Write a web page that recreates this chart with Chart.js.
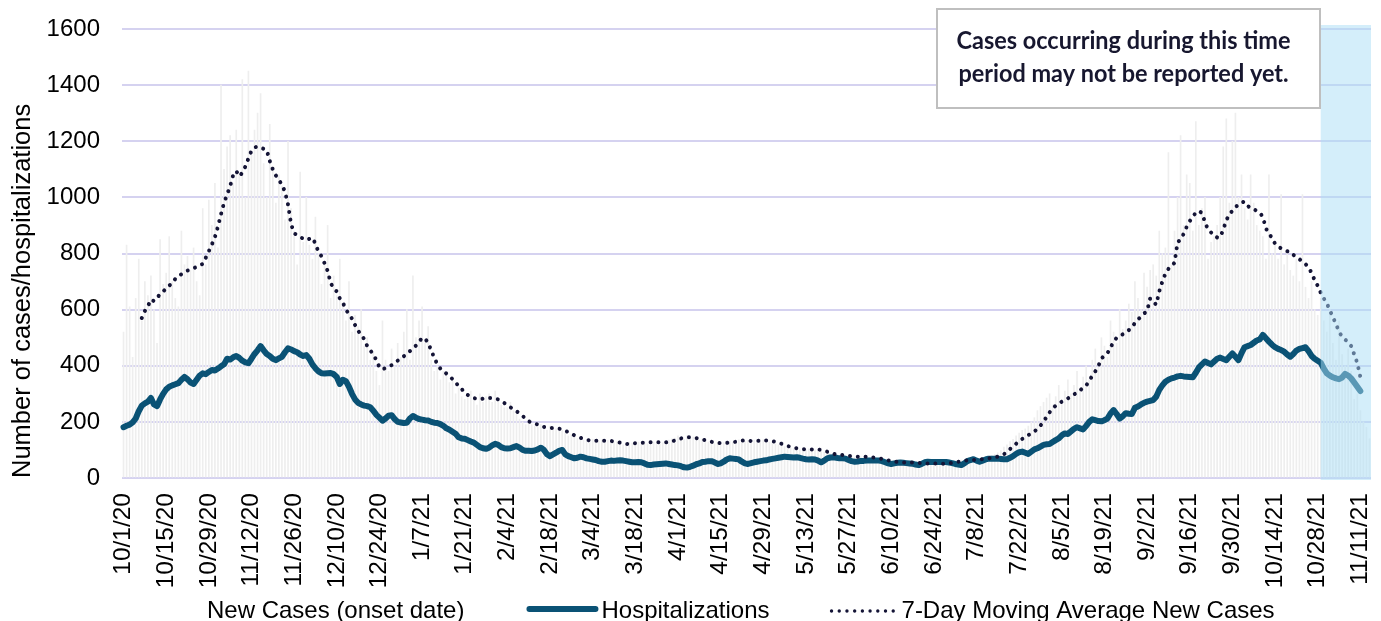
<!DOCTYPE html>
<html>
<head>
<meta charset="utf-8">
<script src="https://cdn.jsdelivr.net/npm/chart.js@4.4.1/dist/chart.umd.min.js"></script>
<style>
html,body{margin:0;padding:0;background:#fff;overflow:hidden;}
#wrap{width:1381px;height:621px;position:relative;}
</style>
</head>
<body>
<div id="wrap"><canvas id="c" width="1381" height="621"></canvas></div>
<script>
// ---------------- DATA ----------------
const startDate = [2020, 10, 1];   // first onset date (year, month, day)
const dayCount = 410;              // 10/1/20 ... 11/14/21

const tickLabels = ['10/1/20','10/15/20','10/29/20','11/12/20','11/26/20','12/10/20','12/24/20',
  '1/7/21','1/21/21','2/4/21','2/18/21','3/4/21','3/18/21','4/1/21','4/15/21','4/29/21',
  '5/13/21','5/27/21','6/10/21','6/24/21','7/8/21','7/22/21','8/5/21','8/19/21','9/2/21',
  '9/16/21','9/30/21','10/14/21','10/28/21','11/11/21'];

const newCases = [
  520,830,610,430,640,780,560,
  700,650,720,600,480,850,690,
  730,860,700,640,610,880,760,
  790,740,820,700,650,960,760,
  990,900,1050,820,1400,1100,1180,
  1220,1050,1240,1080,1420,1000,1450,
  1150,1240,1300,1370,1120,1000,1260,
  1100,980,1080,1040,920,1200,960,
  880,760,1090,840,1000,830,780,
  930,800,690,760,900,640,720,
  650,780,620,560,700,520,580,
  540,600,470,500,420,450,380,
  330,560,420,380,460,400,480,
  430,520,600,420,720,500,560,
  610,480,540,420,380,400,350,
  380,370,340,360,300,320,290,
  280,300,310,290,260,300,270,
  290,300,270,310,280,260,250,
  250,270,240,230,210,200,190,
  200,190,185,180,190,175,170,
  185,180,175,178,170,160,150,
  155,150,140,145,135,132,130,
  138,130,132,135,128,134,130,
  125,130,122,118,120,128,124,
  126,128,125,130,122,130,128,
  126,130,125,128,135,140,142,
  150,145,138,150,140,146,138,
  135,138,130,128,125,122,128,
  120,126,130,132,128,134,136,
  138,130,134,130,135,132,138,
  136,130,128,126,122,118,115,
  112,108,106,104,102,101,103,
  100,104,102,100,98,96,92,
  88,86,82,84,80,82,78,
  76,80,74,78,76,74,77,
  72,70,72,66,68,62,60,
  58,56,58,55,54,56,53,
  56,52,54,50,52,53,50,
  52,48,50,52,54,56,58,
  60,62,64,62,66,64,66,
  68,70,72,74,76,80,84,
  90,98,110,118,130,138,150,
  160,170,175,185,200,215,240,
  255,270,285,300,260,290,330,
  280,310,350,300,330,380,320,
  360,400,350,420,460,400,500,
  470,430,560,520,480,600,530,
  560,620,590,700,640,600,730,
  680,740,760,720,880,800,820,
  1160,760,880,1000,1220,900,1080,
  1050,880,1270,900,960,1000,780,
  840,860,900,1000,1180,1280,980,
  1200,1300,1000,1080,960,920,1080,
  980,900,880,860,780,1080,800,
  840,780,1010,760,800,740,720,
  780,700,1010,680,640,700,600,
  580,640,560,520,600,480,420,
  560,440,400,460,380,280,300,
  240,200,180,140
];

const hospitalizations = [
  181,186,190,198,212,238,258,266,272,285,
  262,256,280,300,316,325,330,334,338,350,
  360,352,340,335,350,365,373,370,378,385,
  383,390,398,405,425,422,430,435,428,418,
  412,409,425,442,455,470,455,442,435,425,
  420,426,432,448,462,458,452,448,440,435,
  438,425,405,391,380,373,372,373,374,370,
  360,335,350,345,325,300,280,268,262,258,
  256,252,240,225,215,204,212,222,224,210,
  200,198,196,197,212,221,215,210,208,206,
  205,200,197,196,192,186,177,172,165,158,
  145,141,140,135,130,126,118,110,106,104,
  108,116,122,118,110,106,105,106,110,114,
  108,100,97,97,96,98,102,108,100,85,
  78,84,90,97,100,84,78,74,70,72,
  76,74,70,68,66,64,60,58,58,60,
  62,61,62,63,62,60,58,56,56,57,
  56,52,47,46,48,49,50,51,52,50,
  48,46,45,42,38,37,40,44,49,52,
  57,58,60,60,56,50,52,58,66,70,
  69,68,66,58,52,50,53,56,58,60,
  62,63,66,68,70,72,74,76,75,74,
  73,74,72,69,67,66,67,66,62,56,
  62,70,73,74,72,70,70,69,64,60,
  58,59,61,61,62,62,62,62,62,60,
  56,52,50,52,54,55,54,53,52,51,
  48,46,50,56,58,57,57,57,57,57,
  57,55,53,50,48,46,52,60,64,67,
  62,58,62,66,69,69,69,69,68,67,
  67,72,78,86,92,94,90,86,94,102,
  106,112,118,120,121,128,135,141,152,159,
  157,166,175,181,177,173,186,200,209,206,
  203,202,206,212,230,242,228,212,220,231,
  229,228,250,255,262,268,272,275,278,290,
  314,330,343,350,355,358,362,364,362,361,
  360,359,375,394,405,415,410,405,415,425,
  429,424,420,432,444,432,420,445,466,470,
  474,482,490,494,510,498,486,475,466,460,
  456,450,440,432,442,454,460,463,466,452,
  435,425,418,411,390,373,365,359,355,352,
  358,371,365,355,340,325,310,null,null,null
];

const movingAverage = [
  null,null,null,null,null,null,570,595,612,636,
  630,642,655,665,675,686,694,710,720,726,
  732,739,744,748,752,758,763,785,808,832,
  858,896,940,981,1010,1040,1080,1094,1075,1088,
  1110,1139,1166,1178,1181,1177,1173,1169,1130,1100,
  1078,1062,1045,1020,975,905,872,866,860,852,
  848,852,856,835,805,790,765,738,695,675,
  665,640,625,600,584,568,545,525,510,495,
  470,455,440,420,395,387,392,397,402,409,
  418,425,434,442,452,462,472,484,500,496,
  482,454,429,405,390,381,372,364,352,343,
  325,318,302,296,290,285,282,280,283,286,
  285,285,284,280,274,267,260,252,245,238,
  230,222,210,202,197,195,190,185,182,180,
  179,178,177,176,172,169,163,158,152,147,
  143,140,136,134,133,133,133,133,133,132,
  132,130,128,126,123,121,122,123,124,125,
  126,126,127,127,127,127,127,127,127,128,
  130,134,138,141,144,145,145,144,142,140,
  137,135,132,129,127,125,124,124,125,127,
  128,129,131,133,134,133,132,132,132,133,
  134,134,133,131,129,126,122,118,114,111,
  108,106,104,103,102,102,102,103,102,100,
  97,94,90,86,84,83,82,80,79,78,
  77,76,76,76,76,75,73,72,70,68,
  66,63,61,59,57,56,55,55,55,55,
  55,54,53,52,52,52,52,51,50,51,
  51,52,54,56,58,60,62,63,64,64,
  65,66,67,69,70,72,74,76,80,85,
  92,103,114,122,132,139,146,153,158,166,
  175,187,200,218,234,248,258,266,272,278,
  284,290,298,304,312,322,330,345,365,380,
  399,425,437,445,465,485,500,506,512,520,
  527,538,552,565,575,586,595,640,628,618,
  665,700,728,745,755,767,840,850,870,895,
  915,932,945,952,944,912,885,875,862,857,
  858,885,918,940,952,965,975,982,985,970,
  962,958,952,946,930,890,870,856,835,825,
  818,812,808,806,795,788,780,770,762,752,
  730,705,685,660,640,622,598,572,550,520,
  505,494,482,470,440,410,360,null,null,null
];

const seriesNames = ['New Cases (onset date)', 'Hospitalizations', '7-Day Moving Average New Cases'];
const axisTitle = 'Number of cases/hospitalizations';
const noteLines = ['Cases occurring during this time', 'period may not be reported yet.'];
const incompleteFrom = '10/29/21';

// categories (one per onset day), formatted M/D/YY
const categories = [];
for (let i = 0; i < dayCount; i++) {
  const d = new Date(Date.UTC(startDate[0], startDate[1] - 1, startDate[2]) + i * 86400000);
  categories.push((d.getUTCMonth() + 1) + '/' + d.getUTCDate() + '/' + String(d.getUTCFullYear()).slice(2));
}
const tickSet = new Set(tickLabels);

// ---------------- STYLE ----------------
const FONT = '"Liberation Sans", Arial, sans-serif';
const HOSP_COLOR = '#0a5275';
const MA_COLOR = '#141436';
const BAR_COLOR = '#eeeeee';
const GRID_COLOR = '#d5d2f0';

Chart.defaults.font.family = FONT;
Chart.defaults.color = '#000';

const shadePlugin = {
  id: 'shade',
  afterDatasetsDraw(chart) {
    const { ctx, chartArea, scales: { x } } = chart;
    const idx = categories.indexOf(incompleteFrom);
    const left = x.getPixelForValue(idx);
    ctx.save();
    ctx.fillStyle = 'rgba(169,222,245,0.5)';
    ctx.fillRect(left, chartArea.top - 4, chartArea.right - left, chartArea.bottom - chartArea.top + 6);
    ctx.restore();
  }
};

const overlayPlugin = {
  id: 'overlay',
  afterDraw(chart) {
    const ctx = chart.ctx;
    ctx.save();
    // note box
    const bx = 937, by = 9, bw = 383, bh = 99;
    ctx.fillStyle = '#ffffff';
    ctx.fillRect(bx, by, bw, bh);
    ctx.strokeStyle = '#bfbfbf';
    ctx.lineWidth = 2;
    ctx.strokeRect(bx, by, bw, bh);
    ctx.font = 'bold 24px Lato';
    const w = ctx.measureText(noteLines[0]).width;
    const sx = Math.min(1, 334 / w);
    ctx.fillStyle = '#17172f';
    ctx.textAlign = 'center';
    ctx.textBaseline = 'alphabetic';
    const cxn = bx + bw / 2 - 5;
    ctx.save();
    ctx.translate(cxn, 0);
    ctx.scale(sx, 1);
    ctx.fillText(noteLines[0], 0, 48.5);
    ctx.fillText(noteLines[1], 0, 82);
    ctx.restore();

    // legend
    ctx.font = '24px ' + FONT;
    ctx.fillStyle = '#000';
    ctx.textAlign = 'left';
    const ly = 617.5;
    let cx = 207;
    ctx.fillText(seriesNames[0], cx, ly);
    cx += ctx.measureText(seriesNames[0]).width + 62;
    ctx.strokeStyle = HOSP_COLOR;
    ctx.lineWidth = 6;
    ctx.lineCap = 'round';
    ctx.beginPath();
    ctx.moveTo(cx + 3, 609); ctx.lineTo(cx + 69, 609);
    ctx.stroke();
    cx += 75;
    ctx.fillText(seriesNames[1], cx, ly);
    cx += ctx.measureText(seriesNames[1]).width + 60;
    ctx.strokeStyle = MA_COLOR;
    ctx.lineWidth = 3.4;
    ctx.setLineDash([0.01, 7.7]);
    ctx.beginPath();
    ctx.moveTo(cx + 2, 611); ctx.lineTo(cx + 70, 611);
    ctx.stroke();
    ctx.setLineDash([]);
    cx += 72;
    ctx.fillText(seriesNames[2], cx, ly);
    ctx.restore();
  }
};

new Chart(document.getElementById('c'), {
  type: 'bar',
  data: {
    labels: categories,
    datasets: [
      {
        type: 'bar', label: seriesNames[0], data: newCases,
        backgroundColor: BAR_COLOR, borderWidth: 0, barThickness: 1, order: 3
      },
      {
        type: 'line', label: seriesNames[1], data: hospitalizations,
        borderColor: HOSP_COLOR, backgroundColor: HOSP_COLOR, borderWidth: 6,
        pointRadius: 0, tension: 0, borderJoinStyle: 'round', borderCapStyle: 'round', order: 2
      },
      {
        type: 'line', label: seriesNames[2], data: movingAverage,
        borderColor: MA_COLOR, backgroundColor: MA_COLOR, borderWidth: 4,
        borderDash: [0.01, 7.8], borderCapStyle: 'round', borderJoinStyle: 'round',
        pointRadius: 0, tension: 0, order: 1
      }
    ]
  },
  options: {
    responsive: false,
    animation: false,
    devicePixelRatio: 1,
    layout: { padding: { left: 0, right: 10, top: 29, bottom: 0 } },
    plugins: { legend: { display: false }, tooltip: { enabled: false } },
    scales: {
      x: {
        grid: { display: false, drawTicks: false },
        border: { display: false },
        ticks: {
          autoSkip: false, maxRotation: 90, minRotation: 90, padding: 15,
          color: '#000', font: { family: FONT, size: 24.5 },
          callback: (v, i) => tickSet.has(categories[i]) ? categories[i] : ''
        },
        afterFit: s => { s.height = 143; s.paddingLeft = 0; s.paddingRight = 0; }
      },
      y: {
        min: 0, max: 1600,
        ticks: { stepSize: 200, padding: 22, color: '#000', font: { family: FONT, size: 24 },
                 callback: v => String(v) },
        grid: { color: GRID_COLOR, lineWidth: 2, drawTicks: false },
        border: { display: false },
        title: {
          display: true, text: axisTitle, align: 'start', color: '#000',
          font: { family: FONT, size: 25.5 }, padding: { top: 8, bottom: 0 }
        },
        afterFit: s => { s.width = 122; s.paddingTop = 0; s.paddingBottom = 0; }
      }
    }
  },
  plugins: [shadePlugin, overlayPlugin]
});
</script>
</body>
</html>
